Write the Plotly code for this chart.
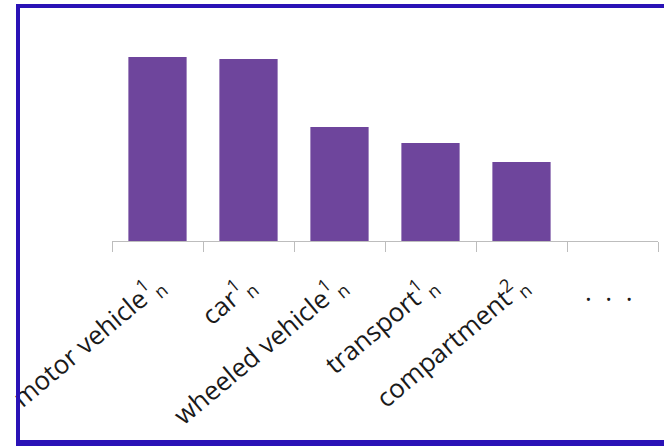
import plotly.graph_objects as go

# Word senses ranked by score
words = ["motor vehicle", "car", "wheeled vehicle", "transport", "compartment"]
sense_ids = ["1", "1", "1", "1", "2"]
sense_pos = ["n", "n", "n", "n", "n"]
scores = [0.915, 0.905, 0.567, 0.488, 0.393]
more_label = "…"

W, H = 664, 446
M_L, M_R, M_T, M_B = 112, 6, 40, 205
PW, PH = W - M_L - M_R, H - M_T - M_B

categories = words + [more_label]
values = scores + [None]
ticktext = [f"{w}<sup>{s}</sup><sub>{p}</sub>" for w, s, p in zip(words, sense_ids, sense_pos)] + [""]

FONT = "Open Sans"

fig = go.Figure()
fig.add_trace(go.Bar(
    x=categories,
    y=values,
    marker=dict(color="#6e459c", line=dict(width=0)),
    width=0.64,
    showlegend=False,
))

# the trailing "more" marker sits level, below the axis
fig.add_annotation(
    x=more_label, y=0, xref="x", yref="y",
    text=".&nbsp;&nbsp;.&nbsp;&nbsp;.", showarrow=False,
    xshift=-4, yshift=-50, font=dict(family=FONT, size=26, color="#1a1a1a"),
)


def px_x(px):
    return (px - M_L) / PW


def px_y(py):
    return (M_T + PH - py) / PH


border = "#2a12b6"
# frame on left, top and bottom edges of the slide
fig.add_shape(type="line", xref="paper", yref="paper",
              x0=px_x(18), x1=px_x(18), y0=px_y(6), y1=px_y(443),
              line=dict(color=border, width=4))
fig.add_shape(type="line", xref="paper", yref="paper",
              x0=px_x(16), x1=px_x(670), y0=px_y(6), y1=px_y(6),
              line=dict(color=border, width=4))
fig.add_shape(type="line", xref="paper", yref="paper",
              x0=px_x(16), x1=px_x(670), y0=px_y(443), y1=px_y(443),
              line=dict(color=border, width=6))

fig.update_xaxes(
    type="category",
    tickvals=categories,
    ticktext=ticktext,
    tickangle=-40,
    tickson="boundaries",
    ticks="outside",
    ticklen=10,
    tickcolor="#bdbdbd",
    ticklabelstandoff=18,
    showline=True,
    linecolor="#bdbdbd",
    linewidth=1,
    showgrid=False,
    zeroline=False,
    tickfont=dict(family=FONT, size=26, color="#1a1a1a"),
    automargin=False,
)
fig.update_yaxes(
    range=[0, 1],
    visible=False,
    showgrid=False,
    zeroline=False,
)
fig.update_layout(
    width=W, height=H,
    margin=dict(l=M_L, r=M_R, t=M_T, b=M_B),
    paper_bgcolor="white",
    plot_bgcolor="white",
    bargap=0.36,
)

fig.write_html("out.html")
